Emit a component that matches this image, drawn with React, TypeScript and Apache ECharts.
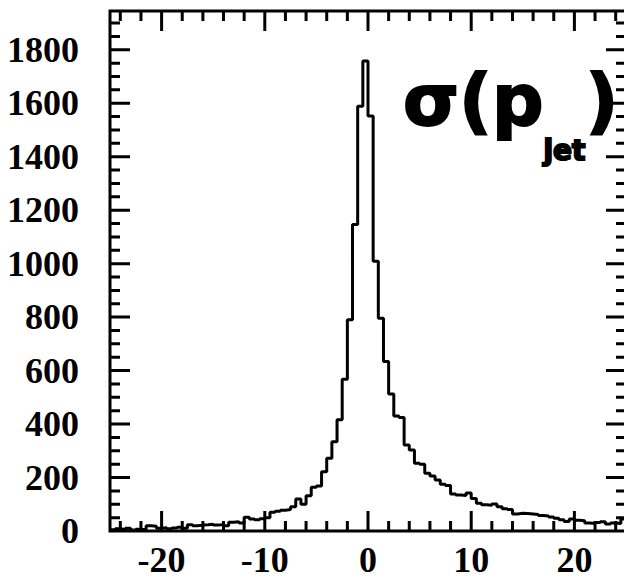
import React, { useEffect, useRef } from "react";
import * as echarts from "echarts";

// Histogram: 100 bins of width 0.5 from -25 to 25
const xMin = -25;
const xMax = 25;
const binWidth = 0.5;
const yMax = 1945;

const counts: number[] = [
  5, 8, 6, 10, 4, 7, 5, 20, 18, 10,
  12, 8, 11, 14, 10, 23, 20, 22, 23, 25,
  22, 24, 20, 33, 35, 30, 51, 45, 42, 46,
  50, 70, 74, 78, 80, 91, 120, 100, 132, 164,
  168, 222, 272, 334, 416, 568, 790, 1146, 1589, 1758,
  1552, 1009, 796, 634, 512, 430, 425, 322, 303, 253,
  250, 216, 206, 191, 175, 170, 138, 135, 133, 142,
  122, 104, 98, 96, 101, 91, 83, 80, 64, 66,
  65, 64, 62, 58, 56, 52, 48, 42, 36, 45,
  40, 38, 30, 28, 32, 35, 26, 30, 28, 45,
];

const xMajorTicks = [-20, -10, 0, 10, 20];
const xMinorTicks = [-24, -22, -18, -16, -14, -12, -8, -6, -4, -2, 2, 4, 6, 8, 12, 14, 16, 18, 22, 24];
const yMajorTicks = [0, 200, 400, 600, 800, 1000, 1200, 1400, 1600, 1800];
const yMinorTicks = [
  50, 100, 150, 250, 300, 350, 450, 500, 550, 650, 700, 750, 850, 900, 950,
  1050, 1100, 1150, 1250, 1300, 1350, 1450, 1500, 1550, 1650, 1700, 1750, 1850, 1900,
];

const FONT = "'Liberation Serif', 'DejaVu Serif', serif";

const W = 632;
const H = 579;
const GRID = { left: 110, right: 6, top: 11, bottom: 48 };

export default function App() {
  const ref = useRef<HTMLDivElement>(null);

  useEffect(() => {
    if (!ref.current) return;
    const chart = echarts.init(ref.current, undefined, { renderer: "svg" });

    const stepData: [number, number][] = counts.map((c, i) => [xMin + i * binWidth, c]);
    stepData.push([xMin + counts.length * binWidth, counts[counts.length - 1]]);

    // tick lengths converted from pixels to data units via the grid size
    const gridW = W - GRID.left - GRID.right;
    const gridH = H - GRID.top - GRID.bottom;
    const xPerPx = (xMax - xMin) / gridW;
    const yPerPx = yMax / gridH;
    const MAJ = 20;
    const MIN = 10;

    const tickData: any[] = [];
    const addX = (v: number, len: number) => {
      tickData.push([v, 0], [v, len * yPerPx], null, [v, yMax], [v, yMax - len * yPerPx], null);
    };
    const addY = (v: number, len: number) => {
      tickData.push([xMin, v], [xMin + len * xPerPx, v], null, [xMax, v], [xMax - len * xPerPx, v], null);
    };
    xMajorTicks.forEach((v) => addX(v, MAJ));
    xMinorTicks.forEach((v) => addX(v, MIN));
    yMajorTicks.filter((v) => v > 0).forEach((v) => addY(v, MAJ));
    yMinorTicks.forEach((v) => addY(v, MIN));

    const labelStyle = {
      color: "#000",
      fontFamily: FONT,
      fontWeight: "bold",
      fontSize: 36,
      formatter: (v: number) => String(v),
    };

    chart.setOption({
      animation: false,
      backgroundColor: "#fff",
      grid: {
        ...GRID,
        show: true,
        borderColor: "#000",
        borderWidth: 3,
        backgroundColor: "transparent",
      },
      xAxis: {
        type: "value",
        min: xMin,
        max: xMax,
        axisLine: { show: false, onZero: false },
        axisTick: { show: false },
        splitLine: { show: false },
        axisLabel: { show: true, customValues: xMajorTicks, margin: 11, ...labelStyle },
      },
      yAxis: {
        type: "value",
        min: 0,
        max: yMax,
        axisLine: { show: false, onZero: false },
        axisTick: { show: false },
        splitLine: { show: false },
        axisLabel: { show: true, customValues: yMajorTicks, margin: 31, ...labelStyle },
      },
      series: [
        {
          type: "line",
          step: "end",
          data: stepData,
          symbol: "none",
          lineStyle: { color: "#000", width: 3 },
          z: 3,
        },
        {
          type: "line",
          data: tickData,
          symbol: "none",
          connectNulls: false,
          clip: false,
          silent: true,
          lineStyle: { color: "#000", width: 3 },
          z: 4,
        },
      ],
      graphic: [
        {
          type: "text",
          x: 403,
          y: 64,
          style: {
            text: "{a|σ(p}{b|jet}{a|)}",
            fill: "#000",
            stroke: "#000",
            lineWidth: 2,
            rich: {
              a: {
                font: "bold 72px 'DejaVu Sans', sans-serif",
                fill: "#000",
                lineHeight: 100,
                verticalAlign: "top",
              },
              b: {
                font: "bold 28px 'DejaVu Sans', sans-serif",
                fill: "#000",
                lineHeight: 32,
                verticalAlign: "bottom",
              },
            },
          },
        },
      ],
    });

    return () => chart.dispose();
  }, []);

  return <div ref={ref} style={{ width: W, height: H, marginLeft: -8, marginTop: -8 }} />;
}
